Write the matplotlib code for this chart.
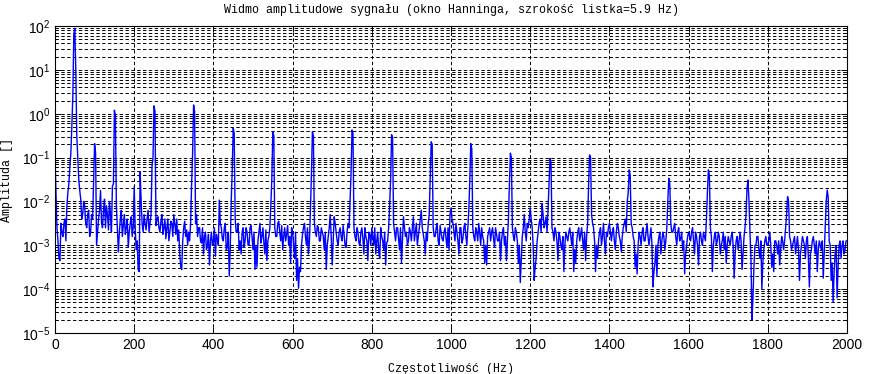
import numpy as np
import matplotlib
matplotlib.use("Agg")
import matplotlib.pyplot as plt
from matplotlib.ticker import LogLocator, NullFormatter

# Spectrum samples: one set on the 5 Hz grid (0, 5, ..., 2000 Hz) and one set
# half-way between them (2.5, 7.5, ..., 1997.5 Hz). Values are log10(amplitude).
freq_step_hz = 5
mid_offset_hz = 2.5

amp_log10 = [
    -1.0, -2.6, -3.3, -2.5, -2.8, -2.4, -2.1, -1.6, -0.9, 0.4,        # 0-45
    1.95, -0.5, -1.5, -1.95, -2.3, -2.1, -2.6, -2.2, -2.7, -2.4,      # 50-95
    -0.68, -3.0, -2.4, -1.75, -2.6, -1.95, -2.1, -2.65, -2.3, -1.65,  # 100-145
    0.08, -2.1, -3.15, -2.4, -2.8, -2.3, -2.6, -3.05, -2.5, -2.8,     # 150-195
    -1.66, -3.1, -3.55, -1.32, -2.5, -2.3, -2.65, -2.2, -2.5, -1.2,   # 200-245
    0.18, -2.55, -2.35, -2.7, -2.3, -2.6, -2.85, -2.4, -2.7, -2.5,    # 250-295
    -2.3, -2.75, -2.9, -3.2, -3.55, -2.6, -2.8, -3.0, -2.9, -1.6,     # 300-345
    0.2, -2.5, -2.8, -2.6, -2.95, -3.2, -2.7, -3.0, -3.45, -2.7,      # 350-395
    -2.9, -3.25, -2.85, -1.97, -2.6, -2.9, -2.5, -3.05, -3.7, -2.0,   # 400-445
    -0.33, -2.4, -2.7, -3.1, -3.2, -2.6, -2.9, -2.7, -3.0, -2.55,     # 450-495
    -3.1, -3.55, -3.5, -2.7, -2.95, -2.6, -3.2, -3.35, -2.8, -2.1,    # 500-545
    -0.41, -2.6, -2.8, -2.45, -2.9, -3.1, -2.6, -2.75, -3.0, -3.4,    # 550-595
    -2.7, -3.3, -3.8, -3.98, -3.6, -2.75, -2.5, -3.0, -3.2, -2.2,     # 600-645
    -0.41, -2.5, -2.8, -2.6, -2.9, -2.7, -3.1, -3.55, -2.8, -2.3,     # 650-695
    -3.45, -2.35, -2.7, -3.0, -2.6, -2.9, -2.75, -3.05, -2.5, -2.0,   # 700-745
    -0.37, -2.6, -2.9, -2.7, -3.0, -2.6, -3.2, -2.8, -3.35, -2.75,    # 750-795
    -2.6, -3.0, -3.2, -2.7, -3.3, -2.8, -3.1, -3.45, -2.9, -2.1,      # 800-845
    -0.48, -2.5, -2.9, -2.6, -3.1, -3.4, -2.35, -2.8, -3.0, -2.6,     # 850-895
    -2.9, -2.35, -2.7, -3.0, -2.6, -2.2, -2.75, -3.2, -2.9, -2.3,     # 900-945
    -0.64, -2.6, -2.8, -2.5, -3.0, -2.7, -2.9, -2.6, -3.05, -3.1,     # 950-995
    -2.15, -2.5, -2.9, -2.7, -3.2, -2.6, -2.85, -2.5, -3.0, -2.2,     # 1000-1045
    -0.68, -2.6, -2.9, -2.7, -2.5, -3.0, -2.8, -3.4, -3.45, -2.7,     # 1050-1095
    -2.9, -2.6, -3.05, -2.75, -2.9, -3.35, -2.7, -3.0, -3.35, -2.4,   # 1100-1145
    -0.9, -2.6, -2.9, -2.7, -3.4, -3.85, -2.8, -2.3, -2.9, -2.6,      # 1150-1195
    -2.15, -2.6, -3.8, -3.3, -2.7, -2.4, -2.05, -2.6, -2.35, -2.2,    # 1200-1245
    -1.02, -2.6, -2.9, -2.7, -3.35, -2.8, -3.1, -3.6, -2.7, -2.9,     # 1250-1295
    -2.6, -3.0, -3.6, -3.4, -2.7, -2.9, -2.6, -3.1, -3.35, -2.5,      # 1300-1345
    -0.94, -2.3, -2.6, -3.6, -3.3, -2.7, -3.0, -2.5, -3.2, -2.8,      # 1350-1395
    -2.5, -2.9, -2.6, -3.1, -2.5, -2.8, -3.15, -2.6, -2.4, -2.0,      # 1400-1445
    -1.28, -2.5, -2.8, -3.5, -3.65, -2.7, -3.0, -2.6, -2.9, -2.5,     # 1450-1495
    -3.0, -2.6, -3.95, -3.4, -3.7, -2.8, -3.2, -2.7, -3.1, -2.6,      # 1500-1545
    -1.47, -2.5, -2.7, -2.5, -3.0, -2.6, -2.85, -3.1, -3.65, -3.0,    # 1550-1595
    -2.7, -2.9, -2.6, -3.2, -2.8, -3.45, -2.7, -3.0, -2.8, -2.4,      # 1600-1645
    -1.28, -2.6, -3.6, -2.8, -3.0, -2.7, -3.2, -2.9, -3.1, -3.4,      # 1650-1695
    -2.8, -3.0, -2.7, -3.75, -2.9, -3.1, -2.7, -3.55, -2.8, -2.3,     # 1700-1745
    -1.51, -2.7, -4.7, -3.5, -3.0, -2.8, -3.3, -4.0, -3.1, -2.8,      # 1750-1795
    -3.0, -2.7, -3.5, -3.6, -2.9, -3.2, -3.45, -2.8, -3.1, -2.6,      # 1800-1845
    -1.89, -2.8, -3.1, -2.9, -3.2, -2.8, -3.8, -3.0, -2.9, -3.3,      # 1850-1895
    -2.8, -3.95, -3.1, -2.8, -3.2, -3.6, -2.9, -3.1, -3.75, -2.6,     # 1900-1945
    -1.74, -2.9, -3.8, -4.3, -3.2, -4.2, -3.0, -3.3, -2.9, -3.1,      # 1950-1995
    -2.9,                                                            # 2000
]

amp_log10_mid = [
    -1.8, -2.9, -3.35, -2.7, -2.5, -2.9, -1.8, -1.2, -0.3, 1.8,       # 2.5-47.5
    1.0, -1.0, -1.75, -2.4, -2.0, -2.5, -2.3, -2.8, -2.3, -1.5,       # 52.5-97.5
    -0.9, -2.7, -2.2, -2.5, -2.2, -2.6, -2.3, -2.0, -2.7, -1.6,       # 102.5-147.5
    -0.05, -2.6, -2.7, -2.2, -2.55, -2.75, -2.4, -2.7, -2.35, -2.6,   # 152.5-197.5
    -2.6, -2.9, -3.6, -2.0, -2.7, -2.5, -2.4, -2.7, -2.3, -1.0,       # 202.5-247.5
    0.05, -2.4, -2.6, -2.45, -2.75, -2.4, -2.6, -2.9, -2.45, -2.8,    # 252.5-297.5
    -2.5, -2.4, -2.65, -3.5, -2.9, -2.45, -2.65, -2.7, -2.5, -0.9,    # 302.5-347.5
    0.05, -2.3, -2.6, -2.9, -2.6, -2.8, -3.1, -2.75, -2.9, -3.0,      # 352.5-397.5
    -2.6, -2.75, -3.0, -2.5, -2.85, -2.6, -3.1, -2.7, -3.1, -1.3,     # 402.5-447.5
    -0.45, -2.7, -2.5, -2.9, -2.7, -3.05, -2.6, -3.0, -2.6, -2.8,     # 452.5-497.5
    -2.7, -3.0, -2.9, -2.5, -2.8, -2.95, -2.65, -2.9, -2.6, -1.5,     # 502.5-547.5
    -0.5, -2.8, -2.5, -2.7, -2.55, -2.8, -2.9, -2.55, -2.8, -2.6,     # 552.5-597.5
    -3.0, -2.7, -3.3, -3.5, -3.0, -2.6, -2.8, -2.6, -2.9, -1.4,       # 602.5-647.5
    -0.5, -2.7, -2.55, -2.9, -2.6, -2.8, -2.7, -3.0, -2.6, -2.8,      # 652.5-697.5
    -2.9, -2.5, -2.9, -2.7, -2.8, -2.55, -3.0, -2.7, -2.6, -1.4,      # 702.5-747.5
    -0.45, -2.8, -2.6, -2.95, -2.7, -2.85, -2.6, -2.9, -2.7, -3.0,    # 752.5-797.5
    -2.8, -2.6, -2.9, -3.15, -2.6, -2.9, -2.7, -2.95, -2.6, -1.5,     # 802.5-847.5
    -0.55, -2.7, -2.6, -2.85, -2.6, -2.9, -2.6, -2.7, -2.9, -2.7,     # 852.5-897.5
    -2.6, -2.9, -2.5, -2.8, -2.4, -2.6, -2.9, -2.7, -2.5, -1.5,       # 902.5-947.5
    -0.7, -2.8, -2.6, -2.9, -2.55, -2.85, -2.7, -2.85, -2.6, -2.3,    # 952.5-997.5
    -2.4, -2.7, -2.5, -2.9, -2.6, -2.95, -2.6, -2.8, -2.6, -1.5,      # 1002.5-1047.5
    -0.8, -2.8, -2.6, -2.9, -2.7, -2.6, -2.9, -3.0, -2.8, -2.6,       # 1052.5-1097.5
    -2.7, -2.85, -2.6, -2.9, -2.7, -2.9, -2.6, -2.8, -2.9, -1.6,      # 1102.5-1147.5
    -1.0, -2.8, -2.6, -2.9, -3.0, -3.3, -2.6, -2.7, -2.5, -2.4,       # 1152.5-1197.5
    -2.4, -3.0, -3.5, -2.9, -2.5, -2.7, -2.3, -2.5, -2.7, -1.6,       # 1202.5-1247.5
    -1.1, -2.7, -2.6, -2.9, -2.7, -3.0, -2.8, -3.0, -2.8, -2.7,       # 1252.5-1297.5
    -2.8, -2.7, -3.1, -2.9, -2.6, -2.75, -2.9, -2.7, -2.8, -1.6,      # 1302.5-1347.5
    -1.0, -2.5, -2.9, -3.0, -2.9, -2.6, -2.8, -2.9, -2.7, -2.6,       # 1352.5-1397.5
    -2.7, -2.7, -2.9, -2.7, -2.6, -2.9, -2.8, -2.5, -2.7, -1.8,       # 1402.5-1447.5
    -1.4, -2.6, -2.9, -3.2, -3.0, -2.8, -2.7, -2.9, -2.7, -2.8,       # 1452.5-1497.5
    -2.8, -3.0, -3.6, -3.0, -3.0, -2.7, -2.9, -2.8, -2.9, -2.0,       # 1502.5-1547.5
    -1.6, -2.7, -2.6, -2.8, -2.7, -2.9, -2.7, -2.9, -3.2, -2.8,       # 1552.5-1597.5
    -2.8, -2.7, -2.9, -2.7, -3.0, -2.8, -2.9, -2.7, -2.9, -1.8,       # 1602.5-1647.5
    -1.4, -2.8, -3.0, -2.7, -2.9, -2.8, -3.0, -2.7, -2.8, -3.0,       # 1652.5-1697.5
    -2.9, -2.8, -3.0, -3.2, -2.8, -2.9, -2.9, -3.2, -2.6, -1.7,       # 1702.5-1747.5
    -2.0, -3.3, -4.2, -3.0, -2.8, -3.1, -2.9, -3.4, -2.9, -3.0,       # 1752.5-1797.5
    -2.9, -3.0, -3.2, -2.9, -3.0, -2.9, -3.1, -2.9, -2.9, -2.3,       # 1802.5-1847.5
    -2.0, -2.9, -3.0, -2.8, -3.0, -3.1, -3.2, -2.8, -3.0, -2.9,       # 1852.5-1897.5
    -3.3, -3.2, -2.9, -3.0, -2.9, -3.1, -3.0, -2.9, -3.2, -2.0,       # 1902.5-1947.5
    -1.9, -3.0, -3.4, -3.6, -3.0, -3.5, -2.9, -3.0, -3.2, -2.9,       # 1952.5-1997.5
]

x_ticks = [0, 200, 400, 600, 800, 1000, 1200, 1400, 1600, 1800, 2000]
title_text = "Widmo amplitudowe sygnału (okno Hanninga, szrokość listka=5.9 Hz)"
xlabel_text = "Częstotliwość (Hz)"
ylabel_text = "Amplituda []"

f_main = np.arange(len(amp_log10)) * freq_step_hz
f_mid = np.arange(len(amp_log10_mid)) * freq_step_hz + mid_offset_hz
freqs = np.concatenate([f_main, f_mid])
vals = np.concatenate([np.array(amp_log10), np.array(amp_log10_mid)])
order = np.argsort(freqs)
freqs = freqs[order]
amps = 10.0 ** vals[order]

plt.rcParams["mathtext.fontset"] = "custom"
plt.rcParams["mathtext.rm"] = "Liberation Sans"
plt.rcParams["mathtext.it"] = "Liberation Sans"
plt.rcParams["mathtext.bf"] = "Liberation Sans"

fig = plt.figure(figsize=(8.69, 3.74), dpi=100, facecolor="white")
ax = fig.add_axes([55 / 869, 41 / 374, 792 / 869, 307 / 374])

ax.plot(freqs, amps, color=(0, 0, 1), linewidth=1.0)

ax.set_yscale("log")
ax.set_xlim(0, 2000)
ax.set_ylim(1e-5, 1e2)
ax.set_xticks(x_ticks)
ax.set_xticklabels([str(t) for t in x_ticks])
ax.yaxis.set_major_locator(LogLocator(base=10, numticks=20))
ax.yaxis.set_minor_locator(LogLocator(base=10, subs=np.arange(2, 10), numticks=100))
ax.yaxis.set_minor_formatter(NullFormatter())

dash = (0, (3.5, 2.5))
ax.grid(True, which="major", axis="both", color="black", linestyle=dash, linewidth=0.7)
ax.grid(True, which="minor", axis="y", color="black", linestyle=dash, linewidth=0.7)
ax.set_axisbelow(True)

ax.tick_params(axis="both", which="both", direction="in", top=True, right=True,
               labelsize=10)
ax.tick_params(axis="both", which="major", length=4, width=0.7)
ax.tick_params(axis="both", which="minor", length=2, width=0.6)
for lab in ax.get_xticklabels() + ax.get_yticklabels():
    lab.set_fontfamily("Liberation Sans")
for sp in ax.spines.values():
    sp.set_linewidth(0.8)
    sp.set_color("black")

mono = ["Liberation Mono", "DejaVu Sans Mono"]
ax.set_title(title_text, fontsize=8.4, family=mono, pad=9)
ax.set_xlabel(xlabel_text, fontsize=8.4, family=mono, labelpad=8)
ax.set_ylabel(ylabel_text, fontsize=8.4, family=mono, labelpad=6)

fig.savefig("out.png", dpi=100, facecolor="white")
